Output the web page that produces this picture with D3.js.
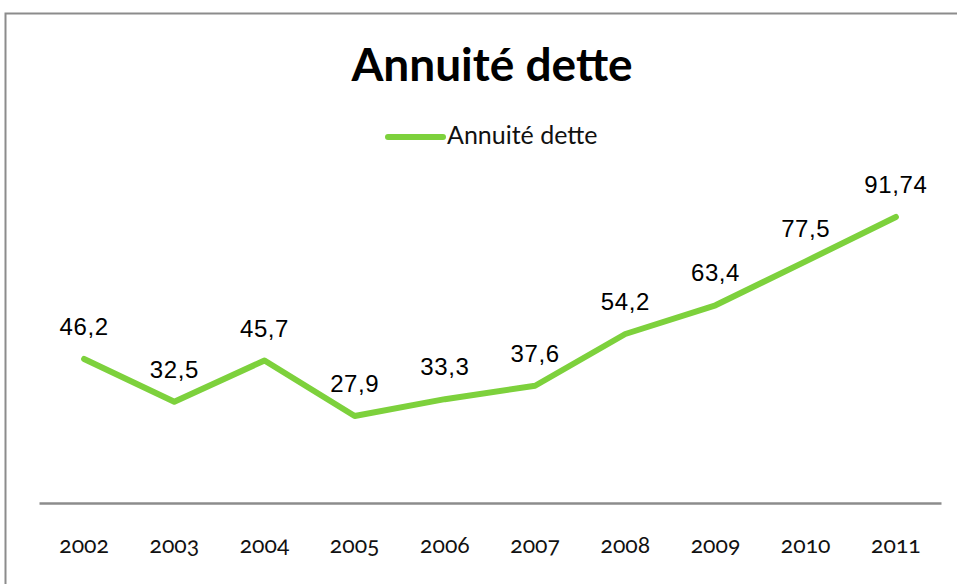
<!DOCTYPE html>
<html>
<head>
<meta charset="utf-8">
<script src="https://cdnjs.cloudflare.com/ajax/libs/d3/7.8.5/d3.min.js"></script>
<style>
  body { margin: 0; background: #fff; }
  svg { display: block; }
</style>
</head>
<body>
<svg id="chart"></svg>
<script>
var years = ["2002", "2003", "2004", "2005", "2006", "2007", "2008", "2009", "2010", "2011"];
var values = [46.2, 32.5, 45.7, 27.9, 33.3, 37.6, 54.2, 63.4, 77.5, 91.74];
var valueLabels = ["46,2", "32,5", "45,7", "27,9", "33,3", "37,6", "54,2", "63,4", "77,5", "91,74"];
var seriesName = "Annuité dette";

var width = 957, height = 584;
var lineColor = "#7dd13c";

var svg = d3.select("#chart")
    .attr("width", width)
    .attr("height", height);

// outer frame of the chart (runs off right and bottom edges)
svg.append("rect")
    .attr("x", 5.5)
    .attr("y", 13.5)
    .attr("width", 1000)
    .attr("height", 1000)
    .attr("fill", "none")
    .attr("stroke", "#8c8c8c")
    .attr("stroke-width", 2);

var plot = {left: 39, right: 941, top: 140, bottom: 503};

var xScale = d3.scaleBand()
    .domain(years)
    .range([plot.left, plot.right]);

var yScale = d3.scaleLinear()
    .domain([0, 100])
    .range([plot.bottom, plot.bottom - 311.8]);

// title
svg.append("text")
    .attr("x", 492)
    .attr("y", 81)
    .attr("text-anchor", "middle")
    .style("font-family", "Lato, 'Open Sans', sans-serif")
    .style("font-weight", "bold")
    .style("font-size", "46px")
    .text(seriesName);

// legend
svg.append("line")
    .attr("x1", 388).attr("x2", 443)
    .attr("y1", 137).attr("y2", 137)
    .attr("stroke", lineColor)
    .attr("stroke-width", 6)
    .attr("stroke-linecap", "round");

svg.append("text")
    .attr("x", 447)
    .attr("y", 144)
    .style("font-family", "Lato, 'Open Sans', sans-serif")
    .style("font-size", "25px")
    .attr("fill", "#111")
    .text(seriesName);

// x axis
var xAxis = d3.axisBottom(xScale).tickSize(0).tickPadding(0);
var axisG = svg.append("g")
    .attr("transform", "translate(0," + plot.bottom + ")")
    .call(xAxis);

axisG.select(".domain")
    .attr("stroke", "#8c8c8c")
    .attr("stroke-width", 2.5);

axisG.selectAll(".tick text")
    .attr("y", 50)
    .attr("dy", "0")
    .style("font-family", "Lato, 'Noto Sans', sans-serif")
    .style("font-size", "23px")
    .style("font-variant-numeric", "oldstyle-nums")
    .attr("fill", "#111");

// line
var line = d3.line()
    .x(function (d, i) { return xScale(years[i]) + xScale.bandwidth() / 2; })
    .y(function (d) { return yScale(d); });

svg.append("path")
    .datum(values)
    .attr("d", line)
    .attr("fill", "none")
    .attr("stroke", lineColor)
    .attr("stroke-width", 6)
    .attr("stroke-linejoin", "round")
    .attr("stroke-linecap", "round");

// data labels
svg.selectAll(".dlabel")
    .data(values)
    .enter()
    .append("text")
    .attr("class", "dlabel")
    .attr("x", function (d, i) { return xScale(years[i]) + xScale.bandwidth() / 2; })
    .attr("y", function (d) { return yScale(d) - 24; })
    .attr("text-anchor", "middle")
    .style("font-family", "'Liberation Sans', Arial, sans-serif")
    .style("font-size", "24px")
    .style("letter-spacing", "0.6px")
    .attr("fill", "#000")
    .text(function (d, i) { return valueLabels[i]; });
</script>
</body>
</html>
